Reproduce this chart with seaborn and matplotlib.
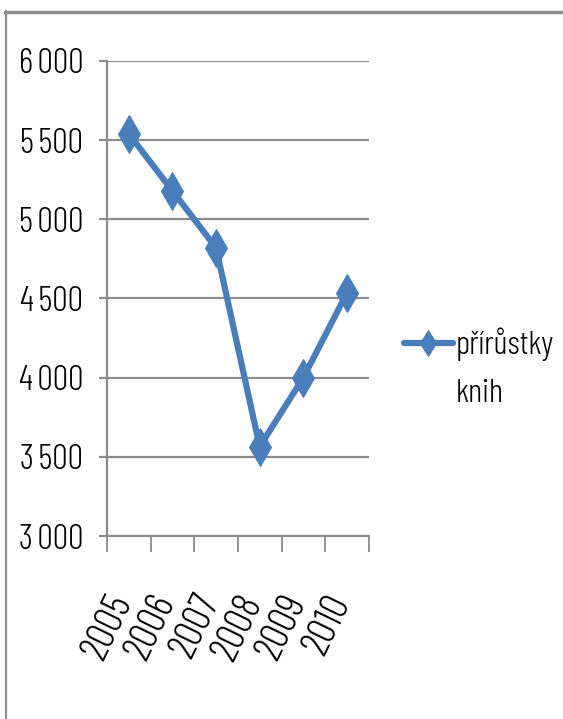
import numpy as np
import pandas as pd
import seaborn as sns
import matplotlib.pyplot as plt
from matplotlib.lines import Line2D
from matplotlib.legend_handler import HandlerLine2D
from matplotlib.ticker import FuncFormatter, FixedLocator
from matplotlib.transforms import ScaledTranslation

years = ["2005", "2006", "2007", "2008", "2009", "2010"]
books_added = [5540, 5180, 4820, 3565, 4000, 4535]
series_label = "přírůstky\nknih"
y_ticks = [3000, 3500, 4000, 4500, 5000, 5500, 6000]

blue = "#4a7ebb"
grey = "#8c8c8c"

sns.set_style("white")
plt.rcParams["font.family"] = ["Barlow Condensed", "Archivo Narrow", "DejaVu Sans"]
plt.rcParams["font.weight"] = 300

df = pd.DataFrame({"pos": np.arange(len(years)), "value": books_added})

fig = plt.figure(figsize=(5.63, 7.19), dpi=100)
ax = fig.add_axes([0.190, 0.2545, 0.465, 0.6607])

sns.lineplot(data=df, x="pos", y="value", ax=ax, color=blue, linewidth=4.5,
             marker="d", markersize=19, markeredgecolor=blue, label=series_label)

ax.set_xlim(-0.5, len(years) - 0.5)
ax.set_ylim(3000, 6000)
ax.set_yticks(y_ticks)
ax.yaxis.set_major_formatter(FuncFormatter(lambda v, p: f"{int(v):,}".replace(",", "\u2009")))
ax.grid(axis="y", color=grey, linewidth=1.6)
ax.set_axisbelow(True)

ax.set_xticks(np.arange(len(years)))
ax.set_xticklabels(years, rotation=64, ha="right")
ax.xaxis.set_minor_locator(FixedLocator(np.arange(len(years) + 1) - 0.5))
ax.tick_params(axis="x", which="major", length=0, pad=38, labelsize=29, labelcolor="black")
ax.tick_params(axis="x", which="minor", length=11.5, width=1.3, color=grey, direction="out", bottom=True)
ax.tick_params(axis="y", length=6, width=1.6, color=grey, direction="out", left=True, pad=11,
               labelsize=25, labelcolor="black")
ax.set_xlabel("")
ax.set_ylabel("")
shift = ScaledTranslation(10 / 100, 0, fig.dpi_scale_trans)
for lab in ax.get_xticklabels():
    lab.set_transform(lab.get_transform() + shift)

for side in ["top", "right"]:
    ax.spines[side].set_visible(False)
for side in ["left", "bottom"]:
    ax.spines[side].set_color(grey)
    ax.spines[side].set_linewidth(1.6)


class FirstLineHandler(HandlerLine2D):
    # keep the legend line beside the first line of the wrapped label
    def create_artists(self, legend, orig_handle, xdescent, ydescent, width, height, fontsize, trans):
        arts = super().create_artists(legend, orig_handle, xdescent, ydescent, width, height, fontsize, trans)
        for a in arts:
            a.set_ydata(np.asarray(a.get_ydata()) + 18)
            a.set_markersize(13)
        return arts


ax.get_legend().remove()
h, l = ax.get_legend_handles_labels()
leg = fig.legend(h, l, loc="center left", bbox_to_anchor=(0.718, 0.488), frameon=False,
                 fontsize=24, handlelength=1.45, handletextpad=0.1, borderpad=0, borderaxespad=0,
                 handler_map={Line2D: FirstLineHandler(numpoints=1)})
for t in leg.get_texts():
    t.set_color("black")
    t.set_linespacing(1.75)

# chart frame (top and left edges visible)
fig.add_artist(Line2D([0.009, 1.0], [0.984, 0.984], transform=fig.transFigure, color=grey, linewidth=2.5))
fig.add_artist(Line2D([0.010, 0.010], [0.0, 0.985], transform=fig.transFigure, color=grey, linewidth=1.6))

fig.savefig("out.png", dpi=100)
